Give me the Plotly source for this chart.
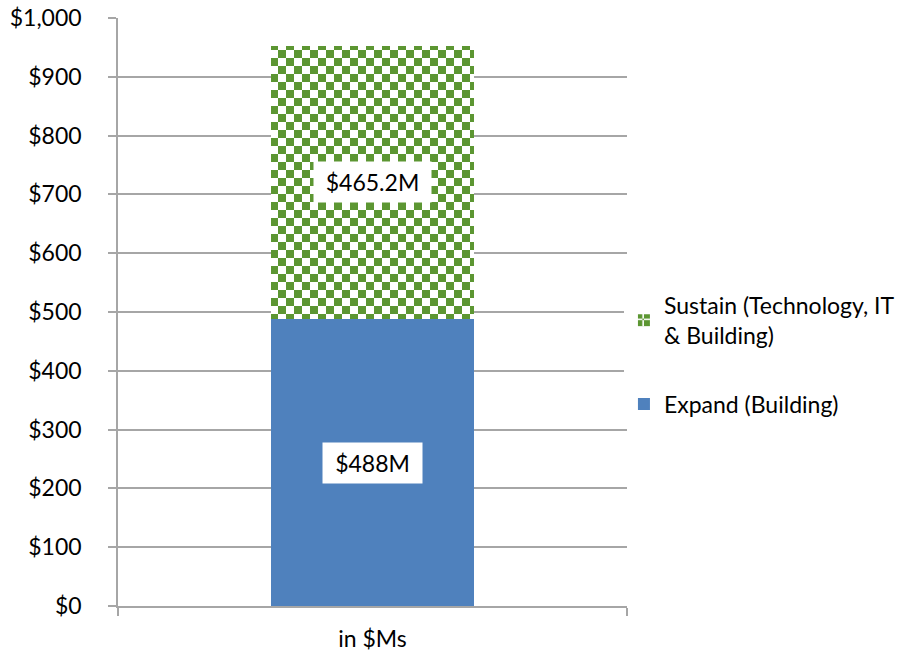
import plotly.graph_objects as go

categories = ["in $Ms"]
expand_values = [488]
sustain_values = [465.2]
expand_labels = ["$488M"]
sustain_labels = ["$465.2M"]
series_names = ["Expand (Building)", "Sustain (Technology, IT<br>& Building)"]

FONT = "Lato"
FS = 23
GRID = "#a6a6a6"
BLUE = "#4f81bd"
GREEN = "#5c9632"

fig = go.Figure()
fig.add_trace(go.Bar(
    x=categories, y=expand_values, name=series_names[0],
    marker=dict(color=BLUE, line=dict(width=0)),
    width=0.4, legendgroup="a", legendrank=2, hoverinfo="skip",
))
fig.add_trace(go.Bar(
    x=categories, y=sustain_values, name=series_names[1],
    marker=dict(color="white", line=dict(width=0),
                pattern=dict(path="M0,0H8V8H0ZM8,8H16V16H8Z", size=16,
                             fgcolor=GREEN, bgcolor="white", fillmode="replace", solidity=1)),
    width=0.4, legendgroup="b", legendrank=1, hoverinfo="skip",
))

for i, c in enumerate(categories):
    fig.add_annotation(x=c, y=expand_values[i] / 2, text=expand_labels[i],
                       showarrow=False, bgcolor="white", borderpad=9,
                       width=81, height=22, font=dict(family=FONT, size=FS, color="black"))
    fig.add_annotation(x=c, y=expand_values[i] + sustain_values[i] / 2, text=sustain_labels[i],
                       showarrow=False, bgcolor="white", borderpad=9,
                       width=99, height=22, font=dict(family=FONT, size=FS, color="black"))

fig.update_layout(
    width=917, height=655,
    margin=dict(l=118, r=290, t=18, b=49),
    barmode="stack",
    plot_bgcolor="white", paper_bgcolor="white",
    font=dict(family=FONT, size=FS, color="black"),
    showlegend=True,
    legend=dict(x=0.994, xanchor="left", y=0.548, yanchor="top",
                traceorder="grouped", tracegroupgap=36,
                font=dict(family=FONT, size=FS, color="black"),
                itemwidth=30),
    xaxis=dict(showline=True, linecolor=GRID, linewidth=1.5, ticks="outside",
               tickson="boundaries", ticklen=8, tickcolor=GRID, tickwidth=1.5,
               showgrid=False, automargin=False, ticklabelstandoff=12,
               tickfont=dict(family=FONT, size=FS)),
    yaxis=dict(range=[0, 1000], dtick=100, tickprefix="$", tickformat=",d",
               showline=True, linecolor=GRID, linewidth=1.5, ticks="outside",
               ticklen=8, tickcolor=GRID, tickwidth=1.5, automargin=False,
               showgrid=True, gridcolor=GRID, gridwidth=1.5, zeroline=False,
               ticklabelstandoff=22,
               tickfont=dict(family=FONT, size=FS)),
)

fig.write_html("out.html")
